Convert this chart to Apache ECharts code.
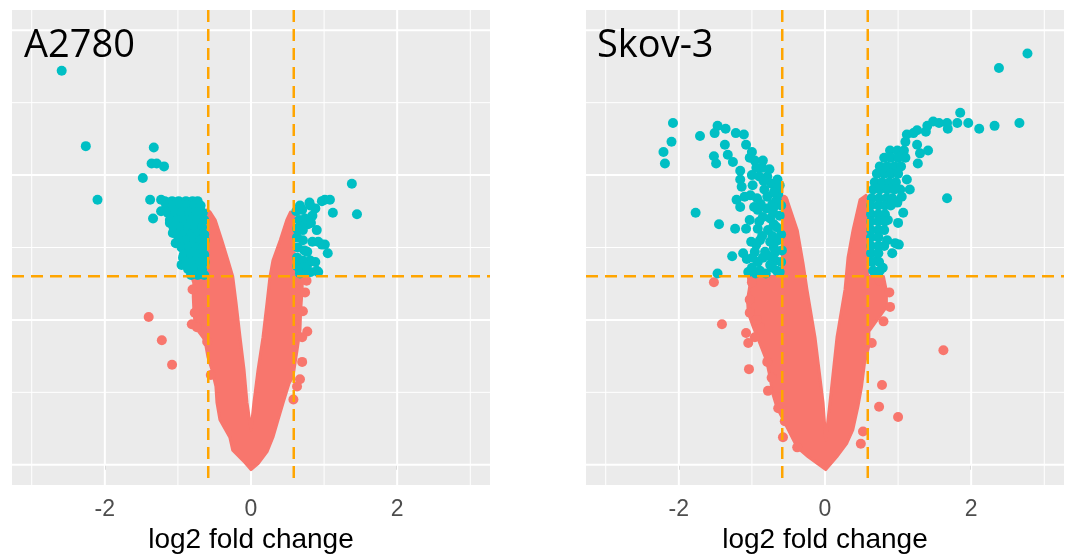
<!DOCTYPE html>
<html><head><meta charset="utf-8">
<script src="https://cdn.jsdelivr.net/npm/echarts@6/dist/echarts.min.js"></script>
<style>html,body{margin:0;padding:0;background:#fff}#chart{width:1070px;height:554px}</style>
</head><body><div id="chart"></div>
<script>
// ---------------- data (x = log2 fold change, y = -log10 p) ----------------
const panelTitles = ['A2780', 'Skov-3'];
const xTickValues = [-2, 0, 2];
const xMajorGrid = [-2, 0, 2];
const xMinorGrid = [-3, -1, 1, 3];
const yMajorGrid = [0, 1, 2, 3];
const yMinorGrid = [0.5, 1.5, 2.5];
const fcCutoff = 0.585;
const pCutoff = 1.301;

// A2780 significant genes (cyan)
const a2780Sig = [
  [-2.59,2.72],[-2.26,2.20],[-2.10,1.83],[-1.48,1.98],[-1.33,2.19],[-1.36,2.08],[-1.29,2.08],[-1.19,2.06],
  [-1.38,1.83],[-1.23,1.83],[-1.23,1.75],[-1.34,1.70],[-1.11,1.67],[-1.03,1.53],[-0.93,1.43],[-0.95,1.38],
  [-0.99,1.56],[-1.07,1.60],
  [-1.18,1.82],[-1.08,1.82],[-0.99,1.82],[-0.89,1.82],[-0.80,1.82],[-0.73,1.82],
  [-1.16,1.79],[-1.07,1.79],[-0.97,1.79],[-0.88,1.79],[-0.78,1.79],[-0.69,1.79],
  [-1.14,1.74],[-1.04,1.74],[-0.95,1.74],[-0.85,1.74],[-0.75,1.74],[-0.66,1.74],
  [-1.11,1.69],[-1.01,1.69],[-0.92,1.69],[-0.82,1.69],[-0.73,1.69],[-0.64,1.69],
  [-1.06,1.64],[-0.96,1.64],[-0.86,1.64],[-0.77,1.64],[-0.67,1.64],
  [-1.01,1.59],[-0.92,1.59],[-0.82,1.59],[-0.73,1.59],[-0.64,1.59],
  [-0.97,1.55],[-0.88,1.55],[-0.78,1.55],[-0.69,1.55],[-0.63,1.55],
  [-0.95,1.50],[-0.85,1.50],[-0.75,1.50],[-0.66,1.50],
  [-0.92,1.45],[-0.82,1.45],[-0.73,1.45],[-0.64,1.45],
  [-0.89,1.40],[-0.80,1.40],[-0.70,1.40],[-0.63,1.40],
  [-0.86,1.35],[-0.77,1.35],[-0.67,1.35],
  [-0.82,1.31],[-0.73,1.31],[-0.64,1.31],
  [1.38,1.94],[1.45,1.73],[1.01,1.83],[1.08,1.83],[0.97,1.82],[1.12,1.74],[0.80,1.81],[0.88,1.77],
  [0.78,1.66],[0.90,1.62],[0.84,1.54],[0.92,1.54],[1.01,1.52],[1.05,1.46],[0.77,1.47],[0.88,1.40],
  [0.90,1.34],[0.78,1.39],[0.67,1.34],[0.81,1.79],[0.71,1.65],[0.97,1.52],[0.81,1.41],[0.92,1.33],[0.70,1.33],
  [0.62,1.75],[0.70,1.76],[0.66,1.69],[0.74,1.70],[0.63,1.63],[0.71,1.62],[0.63,1.57],[0.71,1.55],
  [0.64,1.50],[0.73,1.48],[0.63,1.43],[0.71,1.41],[0.63,1.37],[0.73,1.36],[0.67,1.32],[0.81,1.33],
  [0.84,1.72],[0.82,1.67],[0.67,1.79]
];
// A2780 non-significant genes: outline of the dense cloud + isolated points (red)
const a2780NsEnvelope = [
  [0.00,0.24],[-0.055,0.43],[-0.096,0.66],[-0.15,0.88],[-0.205,1.12],[-0.25,1.30],[-0.315,1.41],[-0.40,1.55],
  [-0.49,1.69],[-0.56,1.745],[-0.60,1.76],[-0.60,1.30],[-0.78,1.29],[-0.79,1.16],[-0.78,1.05],[-0.76,0.95],
  [-0.63,0.86],[-0.59,0.745],[-0.534,0.655],[-0.48,0.54],[-0.466,0.43],[-0.425,0.31],[-0.29,0.19],[-0.25,0.10],
  [-0.08,0.014],[0.00,-0.034],[0.10,0.01],[0.22,0.09],[0.30,0.19],[0.37,0.31],[0.44,0.43],[0.52,0.56],
  [0.575,0.61],[0.63,0.79],[0.67,0.93],[0.68,1.07],[0.70,1.21],[0.70,1.30],[0.59,1.30],[0.59,1.73],
  [0.54,1.745],[0.49,1.69],[0.40,1.55],[0.30,1.41],[0.26,1.30],[0.22,1.12],[0.164,0.88],[0.096,0.655],[0.04,0.43]
];
const a2780NsPoints = [
  [-1.40,1.02],[-1.22,0.86],[-1.08,0.69],[-0.81,0.97],[-0.74,0.95],[-0.77,1.05],[-0.60,0.85],[-0.80,1.21],
  [-0.75,1.28],[0.74,1.19],[0.71,1.06],[0.77,0.92],[0.70,0.71],[0.67,0.59],[0.63,0.54],[0.70,0.88],
  [0.76,1.27],[0.58,0.45],[-0.55,0.62]
];

// Skov-3 significant genes (cyan)
const skov3Sig = [
  [-2.08,2.36],[-2.10,2.23],[-2.21,2.16],[-2.19,2.08],[-1.71,2.27],[-1.47,2.34],[-1.51,2.29],[-1.36,2.32],
  [-1.22,2.29],[-1.11,2.28],[-1.08,2.21],[-1.37,2.21],[-1.52,2.13],[-1.49,2.08],[-1.33,2.14],[-1.26,2.09],
  [-1.16,2.03],[-1.00,2.16],[-0.96,2.10],[-0.85,2.10],[-1.00,2.00],[-1.16,1.97],[-0.86,2.05],[-0.79,1.99],
  [-0.73,1.94],[-0.68,1.90],[-1.14,1.92],[-0.99,1.93],[-1.21,1.83],[-1.16,1.78],[-1.10,1.85],[-0.93,1.84],
  [-0.79,1.85],[-0.66,1.83],[-1.77,1.74],[-0.92,1.76],[-0.85,1.71],[-0.71,1.74],[-1.03,1.69],[-1.45,1.66],
  [-1.23,1.63],[-1.08,1.63],[-0.92,1.63],[-0.78,1.62],[-0.66,1.64],[-1.01,1.54],[-0.89,1.55],[-0.75,1.54],
  [-0.64,1.55],[-0.96,1.47],[-0.82,1.47],[-0.68,1.47],[-0.59,1.48],[-1.27,1.44],[-1.12,1.46],[-1.07,1.42],
  [-0.99,1.43],[-0.85,1.43],[-0.68,1.41],[-1.05,1.33],[-0.81,1.32],[-0.66,1.34],[-1.47,1.32],[-0.62,1.93],
  [-0.64,1.87],[-0.60,1.79],[-0.62,1.72],[-0.60,1.59],[-0.60,1.40],[-0.62,1.33],[-0.75,1.38],[-0.89,1.34],
  [-0.72,1.80],[-0.83,1.90],[-0.90,1.99],[-0.94,2.05],[-1.03,2.12],
  [-0.70,1.78],[-0.75,1.70],[-0.70,1.66],[-0.72,1.58],[-0.70,1.50],[-0.76,1.44],[-0.72,1.36],[-0.80,1.77],
  [-0.88,1.80],[-0.86,1.58],[-0.94,1.52],[-0.90,1.68],[-0.97,1.78],[-1.02,1.86],[-0.84,1.96],[-0.76,2.04],
  [-0.92,1.40],[-1.00,1.36],[-0.95,1.32],[-0.65,1.97],[-0.70,1.88],
  [2.77,2.84],[2.38,2.74],[1.85,2.43],[2.66,2.36],[2.32,2.34],[2.11,2.32],[1.96,2.36],[1.81,2.36],
  [1.68,2.32],[1.67,2.36],[1.56,2.36],[1.48,2.37],[1.40,2.34],[1.38,2.30],[1.26,2.31],[1.21,2.29],
  [1.12,2.28],[1.10,2.23],[1.26,2.21],[1.41,2.17],[1.30,2.15],[1.27,2.08],[1.07,2.15],[1.00,2.12],
  [1.12,1.97],[1.16,1.90],[1.67,1.84],[1.03,1.90],[1.05,1.85],[0.99,1.81],[1.07,1.74],[1.00,1.67],
  [0.86,1.69],[0.96,1.53],[1.01,1.52],[0.92,1.46],[0.85,1.55],[0.79,1.36],[0.71,1.41],[0.73,1.33],
  [0.89,2.17],[0.99,2.17],[1.08,2.17],
  [0.81,2.12],[0.90,2.12],[1.00,2.12],[1.10,2.12],
  [0.75,2.06],[0.85,2.06],[0.95,2.06],[1.04,2.06],
  [0.71,2.01],[0.81,2.01],[0.90,2.01],[1.00,2.01],
  [0.68,1.95],[0.78,1.95],[0.88,1.95],[0.97,1.95],
  [0.66,1.90],[0.75,1.90],[0.85,1.90],[0.95,1.90],
  [0.64,1.84],[0.74,1.84],[0.84,1.84],[0.92,1.84],
  [0.63,1.79],[0.73,1.79],[0.82,1.79],[0.90,1.79],
  [0.63,1.73],[0.73,1.73],[0.82,1.73],
  [0.63,1.68],[0.73,1.68],[0.82,1.68],
  [0.63,1.62],[0.73,1.62],[0.81,1.62],
  [0.63,1.57],[0.73,1.57],
  [0.63,1.51],[0.73,1.51],[0.81,1.51],
  [0.63,1.46],[0.73,1.46],
  [0.64,1.40],[0.74,1.40],
  [0.66,1.34],[0.75,1.34]
];
const skov3NsEnvelope = [
  [0.01,0.17],[-0.027,0.43],[-0.137,0.88],[-0.247,1.21],[-0.30,1.39],[-0.38,1.62],[-0.52,1.83],[-0.575,1.85],
  [-0.585,1.30],[-1.05,1.30],[-1.03,1.23],[-1.06,1.14],[-1.05,1.05],[-0.98,0.95],[-0.90,0.85],[-0.80,0.72],
  [-0.75,0.60],[-0.72,0.50],[-0.66,0.40],[-0.55,0.29],[-0.38,0.12],[-0.23,0.055],[0.01,-0.034],[0.16,0.055],
  [0.30,0.15],[0.38,0.24],[0.45,0.40],[0.50,0.54],[0.54,0.70],[0.60,0.82],[0.60,0.92],[0.74,1.02],
  [0.84,1.09],[0.84,1.20],[0.80,1.30],[0.585,1.30],[0.585,1.84],[0.56,1.86],[0.479,1.83],[0.384,1.62],
  [0.315,1.43],[0.274,1.21],[0.164,0.88],[0.068,0.43]
];
const skov3NsPoints = [
  [-1.52,1.26],[-1.41,0.97],[-1.04,0.66],[-1.08,0.91],[-1.05,0.84],[-0.78,0.51],[-0.575,0.19],[-0.38,0.12],
  [-0.64,0.39],[-0.89,0.95],[-0.96,0.88],[-1.03,1.05],[-1.03,1.14],[-1.00,1.26],[-0.93,1.00],[-0.79,0.71],
  [-0.73,0.60],[-0.55,0.30],[-0.57,1.83],
  [1.62,0.79],[0.78,0.55],[0.74,0.40],[1.00,0.33],[0.52,0.23],[0.49,0.145],[0.89,1.09],[0.88,1.19],
  [0.64,0.84],[0.80,0.99],[0.75,1.27]
];

// ---------------- chart ----------------
const RED = '#F8766D', CYAN = '#00BFC4', ORANGE = '#FFA500';
const X_MIN = -3.27, X_MAX = 3.27, Y_MIN = -0.14, Y_MAX = 3.14;
const panels = [
  {sig: a2780Sig, env: a2780NsEnvelope, ns: a2780NsPoints},
  {sig: skov3Sig, env: skov3NsEnvelope, ns: skov3NsPoints}
];

function gridLines(gi) {
  return {
    type: 'custom', coordinateSystem: 'cartesian2d', xAxisIndex: gi, yAxisIndex: gi,
    z: 1, silent: true, data: [[0, 0]],
    renderItem: function (params, api) {
      const ch = [];
      const add = (a, b, w) => {
        const p1 = api.coord(a), p2 = api.coord(b);
        ch.push({type: 'line', shape: {x1: p1[0], y1: p1[1], x2: p2[0], y2: p2[1]},
          style: {stroke: '#FFFFFF', lineWidth: w}});
      };
      xMinorGrid.forEach(v => add([v, Y_MIN], [v, Y_MAX], 1));
      yMinorGrid.forEach(v => add([X_MIN, v], [X_MAX, v], 1));
      xMajorGrid.forEach(v => add([v, Y_MIN], [v, Y_MAX], 2));
      yMajorGrid.forEach(v => add([X_MIN, v], [X_MAX, v], 2));
      return {type: 'group', children: ch};
    }
  };
}
function cutoffLines(gi) {
  return {
    type: 'custom', coordinateSystem: 'cartesian2d', xAxisIndex: gi, yAxisIndex: gi,
    z: 10, silent: true, data: [[0, 0]],
    renderItem: function (params, api) {
      const ch = [];
      const add = (a, b) => {
        const p1 = api.coord(a), p2 = api.coord(b);
        ch.push({type: 'line', shape: {x1: p1[0], y1: p1[1], x2: p2[0], y2: p2[1]},
          style: {stroke: ORANGE, lineWidth: 2.5, lineDash: [12, 7]}});
      };
      add([-fcCutoff, Y_MAX], [-fcCutoff, Y_MIN]);
      add([fcCutoff, Y_MAX], [fcCutoff, Y_MIN]);
      add([X_MIN, pCutoff], [X_MAX, pCutoff]);
      return {type: 'group', children: ch};
    }
  };
}
function envelope(env, gi) {
  return {
    type: 'custom', coordinateSystem: 'cartesian2d', xAxisIndex: gi, yAxisIndex: gi,
    z: 2, silent: true, data: env,
    renderItem: function (params, api) {
      if (params.dataIndex !== 0) return null;
      const pts = env.map(p => api.coord(p));
      return {type: 'polygon', shape: {points: pts},
        style: {fill: RED, stroke: RED, lineWidth: 3, lineJoin: 'round'}};
    }
  };
}

const grids = [], xAxes = [], yAxes = [], series = [];
const gridLefts = [12, 586];
panels.forEach((p, i) => {
  grids.push({left: gridLefts[i], top: 10, width: 478, height: 475, show: true,
    backgroundColor: '#EBEBEB', borderWidth: 0, containLabel: false, outerBoundsMode: 'none'});
  xAxes.push({
    gridIndex: i, type: 'value', min: X_MIN, max: X_MAX, splitNumber: 3,
    axisLine: {show: false}, splitLine: {show: false},
    axisTick: {show: true, customValues: xTickValues, length: 5, lineStyle: {color: '#333333', width: 2}},
    axisLabel: {customValues: xTickValues, color: '#4D4D4D', fontSize: 23, fontFamily: 'Liberation Sans',
      margin: 13},
    name: 'log2 fold change', nameLocation: 'middle', nameGap: 41,
    nameTextStyle: {fontSize: 28, color: '#000000', fontFamily: 'Liberation Sans'}
  });
  yAxes.push({gridIndex: i, type: 'value', min: Y_MIN, max: Y_MAX, show: false,
    splitLine: {show: false}});
  series.push(gridLines(i));
  series.push(envelope(p.env, i));
  series.push({type: 'scatter', xAxisIndex: i, yAxisIndex: i, z: 3, silent: true, data: p.ns,
    symbol: 'circle', symbolSize: 10, itemStyle: {color: RED, opacity: 1}});
  series.push({type: 'scatter', xAxisIndex: i, yAxisIndex: i, z: 4, silent: true, data: p.sig,
    symbol: 'circle', symbolSize: 10, itemStyle: {color: CYAN, opacity: 1}});
  series.push(cutoffLines(i));
});

const chart = echarts.init(document.getElementById('chart'), null, {renderer: 'canvas'});
chart.setOption({
  animation: false,
  backgroundColor: '#FFFFFF',
  grid: grids, xAxis: xAxes, yAxis: yAxes, series: series,
  graphic: [
    {type: 'text', left: 24, top: 27, z: 20, style: {text: panelTitles[0], fontSize: 38,
      fontFamily: 'Open Sans', fill: '#000000'}},
    {type: 'text', left: 597, top: 27, z: 20, style: {text: panelTitles[1], fontSize: 38,
      fontFamily: 'Open Sans', fill: '#000000'}}
  ]
});
</script></body></html>
